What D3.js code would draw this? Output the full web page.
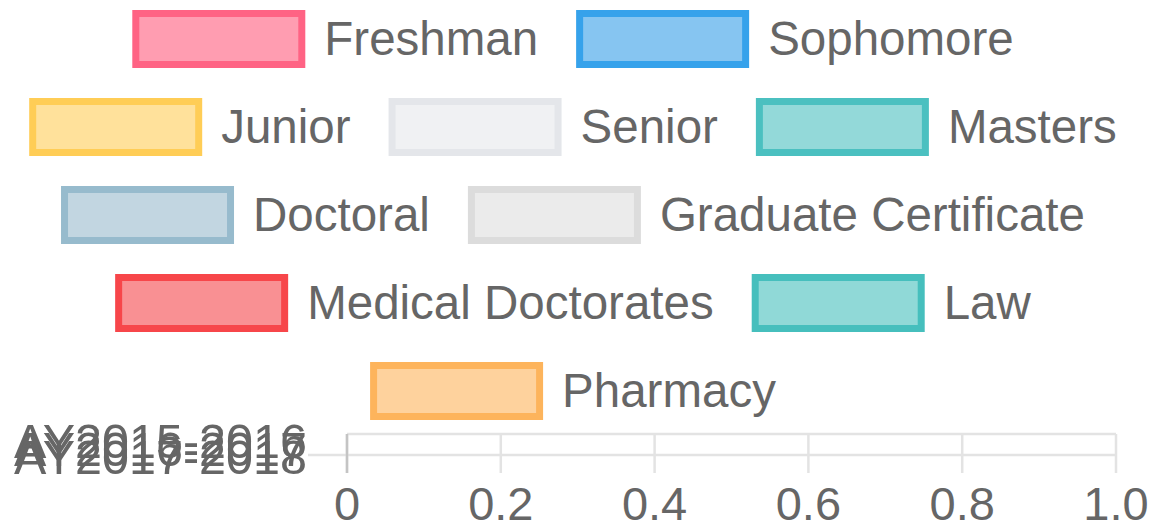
<!DOCTYPE html>
<html><head><meta charset="utf-8">
<script src="https://cdn.jsdelivr.net/npm/d3@7"></script>
<style>body{margin:0;background:#fff}svg{display:block}text{font-family:"Liberation Sans",Arial,sans-serif;fill:#666}</style>
</head><body><svg id="c" width="1156" height="529"></svg>
<script>
const categories = ["AY2015-2016", "AY2016-2017", "AY2017-2018"];
const seriesNames = ["Freshman","Sophomore","Junior","Senior","Masters","Doctoral","Graduate Certificate","Medical Doctorates","Law","Pharmacy"];
const borderColors = ["#ff6384","#36a2eb","#ffcd56","#e4e6ea","#4bc0c0","#97bbcd","#dcdcdc","#f7464a","#46bfbd","#fdb45c"];
const fillColors = ["#ff9db1","#86c5f1","#ffe19b","#f0f1f3","#93d9d9","#c2d6e1","#ebebeb","#f99093","#90d9d7","#fed29d"];
const freshman = [0,0,0], sophomore = [0,0,0], junior = [0,0,0], senior = [0,0,0], masters = [0,0,0],
      doctoral = [0,0,0], gradCert = [0,0,0], medical = [0,0,0], law = [0,0,0], pharmacy = [0,0,0];
const seriesValues = [freshman,sophomore,junior,senior,masters,doctoral,gradCert,medical,law,pharmacy];
const xTicks = [0,0.2,0.4,0.6,0.8,1.0];
const legendRows = [[0,1],[2,3,4],[5,6],[7,8],[9]];

(function(){
const svg = d3.select("#c");
const FS = 47.5;
// legend
const boxW = 173, boxH = 58, gapT = 19, itemGap = 38, rowTop = 10, rowStep = 88, cx = 573;
const lg = svg.append("g");
legendRows.forEach((row, ri) => {
  const y0 = rowTop + ri * rowStep;
  const items = row.map(i => {
    const t = lg.append("text").attr("font-size", FS).text(seriesNames[i]);
    return {i, t, w: t.node().getComputedTextLength()};
  });
  const total = d3.sum(items, d => boxW + gapT + d.w) + itemGap * (items.length - 1);
  let px = cx - total / 2;
  items.forEach(d => {
    lg.append("rect").attr("x", px + 3.5).attr("y", y0 + 3.5).attr("width", boxW - 7).attr("height", boxH - 7)
      .attr("fill", fillColors[d.i]).attr("stroke", borderColors[d.i]).attr("stroke-width", 7);
    d.t.attr("x", px + boxW + gapT).attr("y", y0 + boxH / 2).attr("dy", "0.34em");
    px += boxW + gapT + d.w + itemGap;
  });
});

// chart
const x = d3.scaleLinear().domain([0, 1]).range([347, 1116]);
const y = d3.scaleBand().domain(categories).range([437, 461]);
const areaTop = 434, areaBottom = 455, tickEnd = 473;
const g = svg.append("g");
g.selectAll("line.v").data(xTicks).join("line")
  .attr("x1", d => x(d)).attr("x2", d => x(d)).attr("y1", areaTop).attr("y2", tickEnd)
  .attr("stroke", "#e3e3e3").attr("stroke-width", 2.5);
g.append("line").attr("x1", x(0)).attr("x2", x(1)).attr("y1", areaTop).attr("y2", areaTop).attr("stroke", "#e3e3e3").attr("stroke-width", 2.5);
g.append("line").attr("x1", 308).attr("x2", x(1)).attr("y1", areaBottom).attr("y2", areaBottom).attr("stroke", "#e3e3e3").attr("stroke-width", 2.5);
g.append("line").attr("x1", x(0)).attr("x2", x(0)).attr("y1", areaTop).attr("y2", tickEnd)
  .attr("stroke", "#c4c4c4").attr("stroke-width", 2.5);

// bars (all zero)
const sub = d3.scaleBand().domain(d3.range(seriesNames.length)).range([0, y.bandwidth()]).paddingInner(0.1);
seriesValues.forEach((vals, si) => {
  g.selectAll("rect.s" + si).data(vals).join("rect").attr("class", "s" + si)
    .attr("x", x(0)).attr("y", (d, i) => y(categories[i]) + sub(si)).attr("height", sub.bandwidth())
    .attr("width", d => x(d) - x(0)).attr("fill", fillColors[si]).attr("stroke", "none");
});

// y labels
g.selectAll("text.yl").data(categories).join("text").attr("class", "yl")
  .attr("x", 307).attr("y", d => y(d) + y.bandwidth() / 2).attr("dy", "0.35em")
  .attr("text-anchor", "end").attr("font-size", 48.5).text(d => d);

// x tick labels
g.selectAll("text.xl").data(xTicks).join("text").attr("class", "xl")
  .attr("x", d => x(d)).attr("y", 520).attr("text-anchor", "middle").attr("font-size", 47)
  .text(d => d === 0 ? "0" : d3.format(".1f")(d));
})();
</script></body></html>
